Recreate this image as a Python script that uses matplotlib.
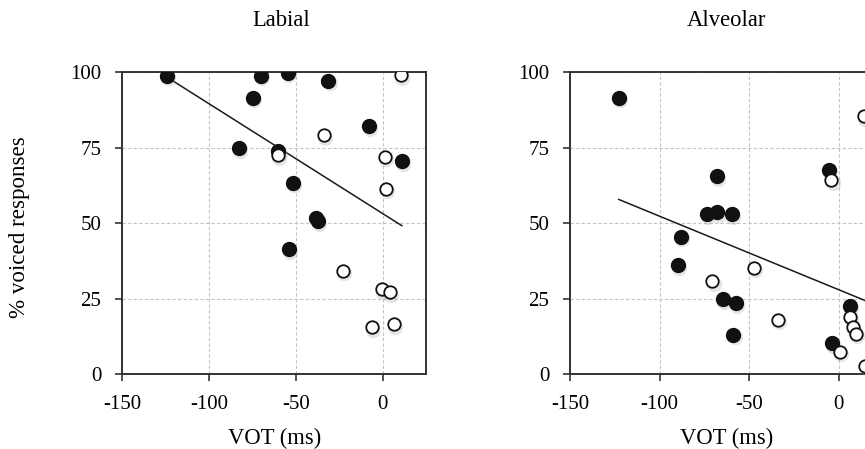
import numpy as np
import matplotlib
matplotlib.use("Agg")
import matplotlib.pyplot as plt
from matplotlib.transforms import offset_copy

plt.rcParams['font.family'] = ['Liberation Serif', 'DejaVu Serif']
plt.rcParams['axes.unicode_minus'] = False

# Labial panel data (VOT in ms, % voiced responses)
labial_filled_vot = [-124.1, -70.3, -54.4, -31.2, -74.7, -7.7, -82.6, -60.0, 11.1, -51.7, -38.1, -37.4, -54.0]
labial_filled_pct = [98.9, 98.9, 99.9, 97.2, 91.5, 82.1, 74.9, 73.8, 70.6, 63.4, 51.7, 50.7, 41.4]
labial_open_vot = [10.5, -33.7, -60.3, 1.5, 1.9, -22.8, -0.4, 4.0, -6.1, 6.3]
labial_open_pct = [99.0, 79.1, 72.6, 72.0, 61.5, 34.3, 28.1, 27.2, 15.6, 16.6]
labial_fit_vot = [-124.0, 11.1]
labial_fit_pct = [98.3, 49.2]

# Alveolar panel data
alveolar_filled_vot = [-122.8, -68.1, -5.6, -73.7, -67.7, -59.4, -88.2, -89.9, -64.6, -57.5, -58.8, 6.3, -3.7]
alveolar_filled_pct = [91.5, 65.5, 67.7, 53.0, 53.6, 53.0, 45.6, 36.1, 24.8, 23.6, 13.1, 22.6, 10.3]
alveolar_open_vot = [13.8, -4.1, -47.3, -70.5, -34.0, 6.3, 8.0, 9.5, 0.4, 14.7]
alveolar_open_pct = [85.5, 64.3, 35.3, 30.8, 18.1, 19.1, 15.5, 13.4, 7.5, 2.8]
alveolar_fit_vot = [-122.8, 16.0]
alveolar_fit_pct = [57.9, 24.1]

x_ticks = [-150, -100, -50, 0]
y_ticks = [0, 25, 50, 75, 100]

W, H = 865, 449
TICK_FS = 15
LABEL_FS = 16.3
fig = plt.figure(figsize=(W / 100, H / 100), dpi=100)


def draw_panel(ax, title, fvot, fpct, ovot, opct, fitx, fity, title_x):
    ax.set_xlim(-150, 25)
    ax.set_ylim(0, 100)
    ax.set_xticks(x_ticks)
    ax.set_yticks(y_ticks)
    ax.grid(True, color='#c4c4c4', linestyle=(0, (3, 2)), linewidth=0.8)
    ax.set_axisbelow(True)
    for sp in ax.spines.values():
        sp.set_color('#333333')
        sp.set_linewidth(1.4)
    ax.tick_params(direction='out', length=5, width=1.2, color='#333333',
                   labelsize=TICK_FS)
    ax.tick_params(axis='x', pad=10)
    ax.tick_params(axis='y', pad=10)

    ax.plot(fitx, fity, color='#1a1a1a', linewidth=1.1, zorder=3)

    # soft drop shadow under the markers
    shadow = offset_copy(ax.transData, fig=fig, x=0.8, y=-1.8, units='points')
    ax.plot(fvot + ovot, fpct + opct, 'o', transform=shadow, markersize=11,
            color='#999999', alpha=0.25, markeredgewidth=0, zorder=4)
    ax.plot(fvot, fpct, 'o', markersize=10, color='#111111',
            markeredgecolor='#111111', zorder=5)
    ax.plot(ovot, opct, 'o', markersize=9, markerfacecolor='white',
            markeredgecolor='#111111', markeredgewidth=1.3, zorder=5)

    ax.set_title(title, fontsize=LABEL_FS, pad=33, x=title_x)
    ax.set_xlabel('VOT (ms)', fontsize=LABEL_FS, labelpad=10)


ax1 = fig.add_axes([122.3 / W, 1 - 374.3 / H, 303.7 / W, 302 / H])
draw_panel(ax1, 'Labial', labial_filled_vot, labial_filled_pct,
           labial_open_vot, labial_open_pct, labial_fit_vot, labial_fit_pct, 0.523)

ax2 = fig.add_axes([570 / W, 1 - 374.3 / H, 313.6 / W, 302 / H])
draw_panel(ax2, 'Alveolar', alveolar_filled_vot, alveolar_filled_pct,
           alveolar_open_vot, alveolar_open_pct, alveolar_fit_vot, alveolar_fit_pct, 0.5)

fig.text(20 / W, 1 - 227 / H, '% voiced responses', rotation=90,
         fontsize=LABEL_FS + 0.3, ha='center', va='center')

fig.savefig('out.png', dpi=100)
